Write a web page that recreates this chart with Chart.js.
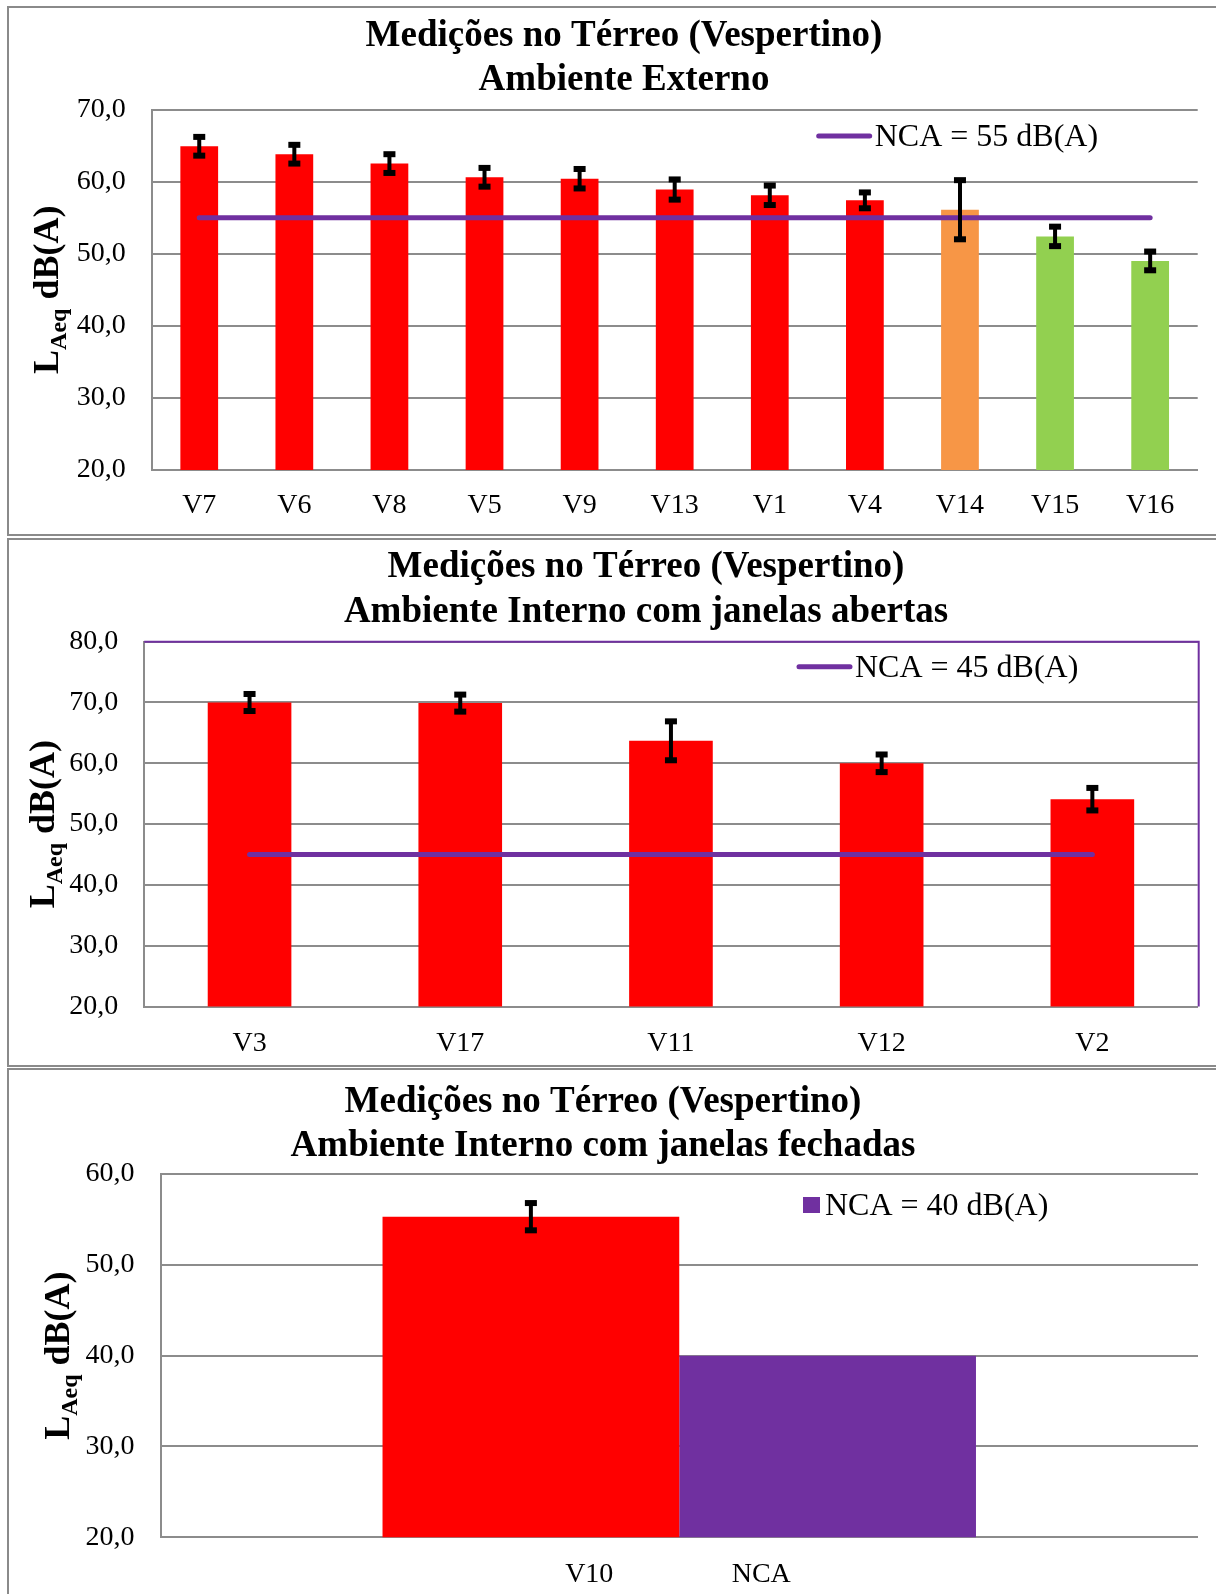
<!DOCTYPE html>
<html lang="pt-BR">
<head>
<meta charset="utf-8">
<title>Medições no Térreo (Vespertino)</title>
<script src="https://cdn.jsdelivr.net/npm/chart.js@4.4.1/dist/chart.umd.min.js"></script>
<style>
    html, body { margin: 0; padding: 0; background: #fff; }
    body { width: 1216px; height: 1594px; overflow: hidden; position: relative; }
    .moldura { position: absolute; left: 7px; width: 1260px; border: 2px solid #8a8a8a; box-sizing: border-box; }
    canvas { position: absolute; }
</style>
</head>
<body>
<div class="moldura" style="top:6px;height:530px"></div>
<div class="moldura" style="top:538px;height:529px"></div>
<div class="moldura" style="top:1068px;height:560px"></div>
<canvas id="grafico1" width="1232" height="527" style="left:8px;top:8px"></canvas>
<canvas id="grafico2" width="1276" height="524" style="left:8px;top:541px"></canvas>
<canvas id="grafico3" width="1190" height="523" style="left:8px;top:1071px"></canvas>
<script>
// Ambiente externo
const categorias1 = ["V7", "V6", "V8", "V5", "V9", "V13", "V1", "V4", "V14", "V15", "V16"];
const laeq1 = [64.9, 63.8, 62.5, 60.6, 60.4, 58.9, 58.1, 57.4, 56.1, 52.4, 49.0];
const erro1 = [1.3, 1.3, 1.3, 1.3, 1.35, 1.4, 1.35, 1.1, 4.1, 1.35, 1.3];
const nca1 = [55, 55, 55, 55, 55, 55, 55, 55, 55, 55, 55];

// Ambiente interno, janelas abertas
const categorias2 = ["V3", "V17", "V11", "V12", "V2"];
const laeq2 = [70.0, 69.9, 63.7, 60.0, 54.1];
const erro2 = [1.4, 1.4, 3.2, 1.45, 1.85];
const nca2 = [45, 45, 45, 45, 45];

// Ambiente interno, janelas fechadas
const categorias3 = ["V10", "NCA"];
const laeq3 = [55.3];
const erro3 = [1.5];
const nca3 = [40];

const ticksY1 = [20, 70];
const ticksY2 = [20, 80];
const ticksY3 = [20, 60];

const VERMELHO = "#ff0000";
const LARANJA = "#f79646";
const VERDE = "#92d050";
const ROXO = "#7030a0";
const CINZA = "#8c8c8c";

const coresBarras1 = [VERMELHO, VERMELHO, VERMELHO, VERMELHO, VERMELHO, VERMELHO,
    VERMELHO, VERMELHO, LARANJA, VERDE, VERDE];

Chart.defaults.font.family = "'Liberation Serif', 'Times New Roman', serif";
Chart.defaults.color = "#000";
Chart.defaults.animation = false;

const fmt = v => Number(v).toFixed(1).replace(".", ",");

// barras de erro em preto, com pontas quadradas
const barrasErro = {
    id: "barrasErro",
    afterDatasetsDraw(chart) {
        const ctx = chart.ctx;
        const y = chart.scales.y;
        chart.data.datasets.forEach((ds, i) => {
            if (!ds.erros) return;
            chart.getDatasetMeta(i).data.forEach((barra, j) => {
                const e = ds.erros[j];
                if (e == null) return;
                const topo = y.getPixelForValue(ds.data[j] + e);
                const base = y.getPixelForValue(ds.data[j] - e);
                ctx.save();
                ctx.strokeStyle = "#000";
                ctx.lineWidth = 4;
                ctx.beginPath();
                ctx.moveTo(barra.x, topo);
                ctx.lineTo(barra.x, base);
                ctx.stroke();
                ctx.fillStyle = "#000";
                ctx.fillRect(barra.x - 6, topo - 3, 12, 6);
                ctx.fillRect(barra.x - 6, base - 3, 12, 6);
                ctx.restore();
            });
        });
    }
};

// título do eixo Y com subscrito (L Aeq dB(A))
const tituloEixoY = {
    id: "tituloEixoY",
    afterDraw(chart, args, opts) {
        const { ctx, chartArea } = chart;
        const fam = "'Liberation Serif', 'Times New Roman', serif";
        const partes = [
            { t: "L", f: `bold 36px ${fam}`, dy: 0 },
            { t: "Aeq", f: `bold 24px ${fam}`, dy: 8 },
            { t: " dB(A)", f: `bold 36px ${fam}`, dy: 0 }
        ];
        ctx.save();
        let total = 0;
        partes.forEach(p => {
            ctx.font = p.f;
            p.w = ctx.measureText(p.t).width;
            total += p.w;
        });
        ctx.translate(chartArea.left + opts.dx, (chartArea.top + chartArea.bottom) / 2);
        ctx.rotate(-Math.PI / 2);
        ctx.fillStyle = "#000";
        ctx.textBaseline = "alphabetic";
        ctx.textAlign = "left";
        let x = -total / 2;
        partes.forEach(p => {
            ctx.font = p.f;
            ctx.fillText(p.t, x, p.dy);
            x += p.w;
        });
        ctx.restore();
    }
};

// legenda desenhada dentro da área do gráfico
const legendaInterna = {
    id: "legendaInterna",
    afterDraw(chart, args, opts) {
        const { ctx, chartArea } = chart;
        const ds = chart.data.datasets[opts.indice];
        const x = chartArea.left + opts.x;
        const y = chartArea.top + opts.y;
        let xTexto;
        ctx.save();
        if (opts.tipo === "linha") {
            ctx.strokeStyle = ds.borderColor;
            ctx.lineWidth = 5;
            ctx.lineCap = "round";
            ctx.beginPath();
            ctx.moveTo(x + 2, y);
            ctx.lineTo(x + 53, y);
            ctx.stroke();
            xTexto = x + 58;
        } else {
            ctx.fillStyle = ds.backgroundColor;
            ctx.fillRect(x, y - 8, 17, 16);
            xTexto = x + 22;
        }
        ctx.fillStyle = "#000";
        ctx.font = "32px 'Liberation Serif', 'Times New Roman', serif";
        ctx.textBaseline = "middle";
        ctx.textAlign = "left";
        ctx.fillText(ds.label, xTexto, y + 2);
        ctx.restore();
    }
};

// borda roxa da área de plotagem (gráfico 2)
const bordaRoxa = {
    id: "bordaRoxa",
    beforeDatasetsDraw(chart) {
        const { ctx, chartArea: a } = chart;
        ctx.save();
        ctx.strokeStyle = ROXO;
        ctx.lineWidth = 2;
        ctx.beginPath();
        ctx.moveTo(a.left, a.top);
        ctx.lineTo(a.right + 1, a.top);
        ctx.lineTo(a.right + 1, a.bottom);
        ctx.stroke();
        ctx.restore();
    }
};

// rótulos do eixo X do gráfico 3
const rotulosX3 = {
    id: "rotulosX3",
    afterDraw(chart, args, opts) {
        const { ctx, chartArea, scales } = chart;
        const cx = scales.x.getPixelForValue(0);
        ctx.save();
        ctx.fillStyle = "#000";
        ctx.font = "28px 'Liberation Serif', 'Times New Roman', serif";
        ctx.textAlign = "center";
        ctx.textBaseline = "middle";
        opts.rotulos.forEach((r, i) => ctx.fillText(r, cx + opts.desloc[i], chartArea.bottom + 37));
        ctx.restore();
    }
};

function escalas(faixa, larguraY, alturaX, padX, margemDir, mostrarX) {
    const s = {
        x: {
            grid: { display: false, drawTicks: false },
            border: { color: CINZA, width: 2 },
            ticks: { display: mostrarX, font: { size: 28 }, padding: padX, maxRotation: 0 },
            afterFit: e => { e.height = alturaX; }
        },
        y: {
            min: faixa[0],
            max: faixa[1],
            grid: { color: CINZA, lineWidth: 2, drawTicks: false },
            border: { color: CINZA, width: 2 },
            ticks: { stepSize: 10, font: { size: 28 }, padding: 26, callback: v => fmt(v) },
            afterFit: e => { e.width = larguraY; }
        }
    };
    if (margemDir > 0) {
        s.margem = {
            position: "right",
            display: true,
            grid: { display: false, drawTicks: false },
            border: { display: false },
            ticks: { display: false },
            afterFit: e => { e.width = margemDir; }
        };
    }
    return s;
}

function titulo(linha2, pt, pb) {
    return {
        display: true,
        text: ["Medições no Térreo (Vespertino)", linha2],
        font: { size: 37, weight: "bold", lineHeight: 1.2 },
        color: "#000",
        padding: { top: pt, bottom: pb }
    };
}

new Chart(document.getElementById("grafico1"), {
    type: "bar",
    data: {
        labels: categorias1,
        datasets: [{
            type: "line",
            label: "NCA = 55 dB(A)",
            data: nca1,
            borderColor: ROXO,
            borderWidth: 5,
            borderCapStyle: "round",
            pointRadius: 0
        }, {
            label: "LAeq",
            data: laeq1,
            erros: erro1,
            backgroundColor: coresBarras1,
            borderWidth: 0,
            categoryPercentage: 1,
            barPercentage: 0.397
        }]
    },
    options: {
        responsive: false,
        devicePixelRatio: 1,
        layout: { padding: 0 },
        scales: escalas(ticksY1, 143.7, 65, 19, 42.3, true),
        plugins: {
            legend: { display: false },
            tooltip: { enabled: false },
            title: titulo("Ambiente Externo", 5.8, 6.9),
            tituloEixoY: { dx: -93.7 },
            legendaInterna: { indice: 0, tipo: "linha", x: 665, y: 26.5 }
        }
    },
    plugins: [barrasErro, tituloEixoY, legendaInterna]
});

new Chart(document.getElementById("grafico2"), {
    type: "bar",
    data: {
        labels: categorias2,
        datasets: [{
            type: "line",
            label: "NCA = 45 dB(A)",
            data: nca2,
            borderColor: ROXO,
            borderWidth: 5,
            borderCapStyle: "round",
            pointRadius: 0
        }, {
            label: "LAeq",
            data: laeq2,
            erros: erro2,
            backgroundColor: VERMELHO,
            borderWidth: 0,
            categoryPercentage: 1,
            barPercentage: 0.397
        }]
    },
    options: {
        responsive: false,
        devicePixelRatio: 1,
        layout: { padding: 0 },
        scales: escalas(ticksY2, 136.2, 58.5, 20.5, 86.3, true),
        plugins: {
            legend: { display: false },
            tooltip: { enabled: false },
            title: titulo("Ambiente Interno com janelas abertas", 4.6, 7.3),
            tituloEixoY: { dx: -90.2 },
            legendaInterna: { indice: 0, tipo: "linha", x: 652.8, y: 25 }
        }
    },
    plugins: [bordaRoxa, barrasErro, tituloEixoY, legendaInterna]
});

new Chart(document.getElementById("grafico3"), {
    type: "bar",
    data: {
        labels: [categorias3[0]],
        datasets: [{
            label: "V10",
            data: laeq3,
            erros: erro3,
            backgroundColor: VERMELHO,
            borderWidth: 0,
            categoryPercentage: 0.572,
            barPercentage: 1
        }, {
            label: "NCA = 40 dB(A)",
            data: nca3,
            backgroundColor: ROXO,
            borderWidth: 0,
            categoryPercentage: 0.572,
            barPercentage: 1
        }]
    },
    options: {
        responsive: false,
        devicePixelRatio: 1,
        layout: { padding: 0 },
        scales: escalas(ticksY3, 152.5, 56.7, 18, 0, false),
        plugins: {
            legend: { display: false },
            tooltip: { enabled: false },
            title: titulo("Ambiente Interno com janelas fechadas", 9.3, 4.9),
            tituloEixoY: { dx: -91.5 },
            legendaInterna: { indice: 1, tipo: "caixa", x: 642.5, y: 31 },
            rotulosX3: { rotulos: categorias3, desloc: [-90, 82] }
        }
    },
    plugins: [barrasErro, tituloEixoY, legendaInterna, rotulosX3]
});
</script>
</body>
</html>
